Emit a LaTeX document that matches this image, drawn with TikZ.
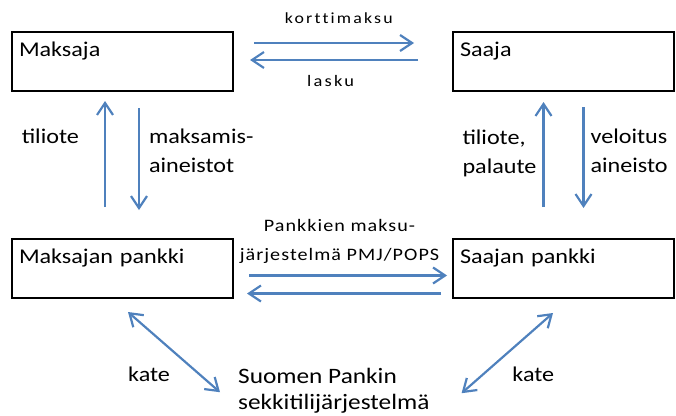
\documentclass[tikz,border=0pt]{standalone}
\usepackage{fontspec}
\setmainfont{Carlito}[FakeStretch=1.15]
\newfontfamily\spacedfont{Carlito}[FakeStretch=1.15,LetterSpace=14,Ligatures=NoCommon]
\newfontfamily\bankfont{Carlito}[FakeStretch=1.15,LetterSpace=6,Ligatures=NoCommon]
\usetikzlibrary{arrows.meta,positioning,calc}
\definecolor{flowblue}{HTML}{4F81BD}

\begin{document}
\begin{tikzpicture}[
    x=1pt, y=1pt,
    node distance=148pt and 220pt,
    partybox/.style={rectangle, draw=black, line width=1.6pt, outer sep=0pt, minimum width=221pt, minimum height=59pt, text width=207pt, align=left, inner xsep=7pt, inner ysep=4pt, text height=20pt, text depth=31pt, font=\fontsize{21}{25}\selectfont},
    sidelabel/.style={inner sep=0pt, align=left, font=\fontsize{21}{29}\selectfont},
    flow/.style={draw=flowblue, line width=2.2pt, -{Straight Barb[length=12pt,width=16pt]}},
    twoway/.style={draw=flowblue, line width=2.2pt, {Straight Barb[length=12pt,width=16pt]}-{Straight Barb[length=12pt,width=16pt]}}
]
\useasboundingbox (0,0) rectangle (676,-415);

\node[partybox, anchor=north west] (maksaja) at (12,-32) {Maksaja};
\node[partybox, right=220pt of maksaja] (saaja) {Saaja};
\node[partybox, below=148pt of maksaja] (mpankki) {Maksajan pankki};
\node[partybox, below=148pt of saaja] (spankki) {Saajan pankki};
\node[sidelabel, anchor=north west, font=\fontsize{22}{26}\selectfont] (skp) at (238,-368) {Suomen Pankin\\sekkitilijärjestelmä};

% customer <-> customer
\draw[flow] ($(maksaja.east)+(21,18.5)$) -- node[pos=0.53, above=16pt, inner sep=2pt, font=\spacedfont\fontsize{15.5}{17}\selectfont] {korttimaksu} ($(saaja.west)+(-39,18.5)$);
\draw[flow] ($(saaja.west)+(-35,1.5)$) -- node[pos=0.52, below=12pt, inner sep=2pt, font=\spacedfont\fontsize{16}{17}\selectfont] {lasku} ($(maksaja.east)+(17,1.5)$);

% customer <-> own bank
\draw[flow] ($(mpankki.north)+(-17.5,32)$) -- node[sidelabel, pos=0.595, anchor=base east, xshift=-25pt] {tiliote} ($(maksaja.south)+(-17.5,-10)$);
\draw[flow] ($(maksaja.south)+(16.5,-17)$) -- node[sidelabel, pos=0.42, anchor=west, xshift=9pt] {maksamis-\\aineistot} ($(mpankki.north)+(16.5,29)$);
\draw[flow] ($(spankki.north)+(-20,32)$) -- node[sidelabel, pos=0.51, anchor=east, xshift=-6pt] {tiliote,\\palaute} ($(saaja.south)+(-20,-11)$);
\draw[flow] ($(saaja.south)+(20,-16)$) -- node[sidelabel, pos=0.436, anchor=west, xshift=6pt] {veloitus\\aineisto} ($(spankki.north)+(20,31)$);

% bank <-> bank
\draw[flow] ($(mpankki.east)+(16,-7)$) -- node[pos=0.457, above=8.5pt, inner sep=2pt, align=center, font=\bankfont\fontsize{17.5}{29}\selectfont] {Pankkien maksu-\\järjestelmä PMJ/POPS} ($(spankki.west)+(-6,-7)$);
\draw[flow] ($(spankki.west)+(-12,-25)$) -- ($(mpankki.east)+(14,-25)$);

% banks <-> central bank
\draw[twoway] ($(mpankki.south)+(5.5,-14)$) -- node[sidelabel, pos=0.87, anchor=base east, xshift=-37pt] {kate} ($(skp.west)+(-18,-1.5)$);
\draw[twoway] ($(spankki.south)+(-10.5,-15)$) -- node[sidelabel, pos=0.86, anchor=base west, xshift=37pt] {kate} ($(skp.east)+(32,-2.5)$);
\end{tikzpicture}
\end{document}
